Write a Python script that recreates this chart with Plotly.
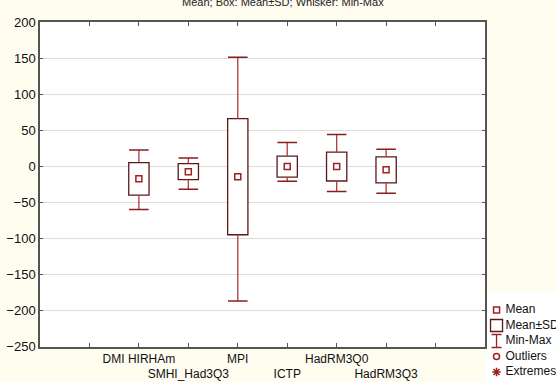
import plotly.graph_objects as go

categories = ["DMI HIRHAm", "SMHI_Had3Q3", "MPI", "ICTP", "HadRM3Q0", "HadRM3Q3"]
means = [-17.5, -7.5, -14.5, -0.5, -0.5, -5.0]
sds = [22.5, 11.0, 80.5, 14.5, 20.0, 18.0]
mins = [-60, -32, -187, -21, -35, -37.5]
maxs = [22.5, 11.5, 151, 33, 44, 23.5]
y_ticks = [200, 150, 100, 50, 0, -50, -100, -150, -200, -250]
legend_labels = ["Mean", "Mean±SD", "Min-Max", "Outliers", "Extremes"]

BOX_EDGE = "#5a1818"
WHISK = "#b03a3a"
MEAN_C = "#a02020"
BG = "#fffcf0"
FONT = "Liberation Sans, Arial"

tops = [m + s for m, s in zip(means, sds)]
bottoms = [m - s for m, s in zip(means, sds)]
pos = list(range(2, 2 + len(categories)))  # category slots on the 0..9 axis

fig = go.Figure()

# Mean ± SD boxes
fig.add_trace(go.Bar(
    x=pos, y=[2 * s for s in sds], base=bottoms,
    width=0.41, marker=dict(color="white", line=dict(color=BOX_EDGE, width=1.3)),
    showlegend=False, hoverinfo="skip"))

# whiskers
wx, wy = [], []
for p, lo, hi, t, b in zip(pos, mins, maxs, tops, bottoms):
    wx += [p, p, None, p, p, None]
    wy += [hi, t, None, b, lo, None]
fig.add_trace(go.Scatter(x=wx, y=wy, mode="lines", line=dict(color=WHISK, width=1.3),
                         showlegend=False, hoverinfo="skip"))

# caps
fig.add_trace(go.Scatter(x=pos + pos, y=maxs + mins, mode="markers",
                         marker=dict(symbol="line-ew", size=14,
                                     line=dict(color="#8b1c1c", width=1.5)),
                         showlegend=False, hoverinfo="skip"))

# means
fig.add_trace(go.Scatter(x=pos, y=means, mode="markers",
                         marker=dict(symbol="square-open", size=6,
                                     line=dict(color=MEAN_C, width=1.5), color=MEAN_C),
                         showlegend=False))

W, H = 556, 382
L, T = 40, 22
R_px, B_px = 485, 346.5
paper_w = W - L
paper_h = H - T
x_dom_end = (R_px - L) / paper_w
y_dom_start = (H - B_px) / paper_h

# title (cut off at top as in the reference)
fig.add_annotation(text="Mean; Box: Mean±SD; Whisker: Min-Max", xref="paper", yref="paper",
                   x=(283 - L) / paper_w, y=1, yanchor="middle", yshift=20, showarrow=False,
                   font=dict(family=FONT, size=11, color="#222"))

# legend drawn in a small side subplot
leg_sym = ["square-open", "square-open", "line-ns", "circle-open", "asterisk-open"]
leg_size = [6, 12, 12, 6, 7]
for k, (lab, sym, sz) in enumerate(zip(legend_labels, leg_sym, leg_size)):
    col = BOX_EDGE if k == 1 else MEAN_C
    if k == 2:
        fig.add_trace(go.Scatter(
            x=[0], y=[k], mode="markers", marker=dict(size=1, color="rgba(0,0,0,0)"),
            error_y=dict(type="constant", value=0.42, color=col, thickness=1.3, width=5),
            xaxis="x3", yaxis="y3", showlegend=False, hoverinfo="skip", cliponaxis=False))
    else:
        fig.add_trace(go.Scatter(
            x=[0], y=[k], mode="markers",
            marker=dict(symbol=sym, size=sz, color=col,
                        line=dict(color=col, width=1.5 if k != 1 else 1.3)),
            xaxis="x3", yaxis="y3", showlegend=False, hoverinfo="skip", cliponaxis=False))
    fig.add_trace(go.Scatter(
        x=[0.75], y=[k], mode="text", text=[lab], textposition="middle right",
        textfont=dict(family=FONT, size=12, color="#111"),
        xaxis="x3", yaxis="y3", showlegend=False, hoverinfo="skip", cliponaxis=False))

fig.update_layout(
    width=W, height=H, margin=dict(l=L, r=0, t=T, b=0, autoexpand=False),
    paper_bgcolor=BG, plot_bgcolor="white", showlegend=False,
    font=dict(family=FONT, size=12, color="#111"),
    xaxis=dict(domain=[0, x_dom_end], range=[0, 9], tickvals=[1, 2, 3, 4, 5, 6, 7, 8],
               ticktext=["", categories[0], "<br>" + categories[1], categories[2],
                         "<br>" + categories[3], categories[4], "<br>" + categories[5], ""],
               tickangle=0, automargin=False,
               showgrid=False, zeroline=False, showline=True, linecolor="#555", linewidth=1.5,
               mirror="ticks", ticks="inside", ticklen=4, tickcolor="#555",
               tickfont=dict(family=FONT, size=12, color="#111")),
    yaxis=dict(domain=[y_dom_start, 1], range=[-250, 200], tickvals=y_ticks,
               automargin=False, showgrid=True, gridcolor="#dcdcdc",
               gridwidth=1.3, zeroline=False, showline=True, linecolor="#555", linewidth=1.5,
               mirror="ticks", ticks="inside", ticklen=3, tickcolor="#555",
               tickfont=dict(family=FONT, size=13, color="#111")),
    xaxis3=dict(domain=[x_dom_end, 1], range=[-0.97, 5.0], visible=False, anchor="y3"),
    yaxis3=dict(domain=[0, 0.25], range=[(H - 310) / 15.5, (H - 310 - 0.25 * paper_h) / 15.5],
                visible=False, anchor="x3"),
)

fig.write_html("out.html")
